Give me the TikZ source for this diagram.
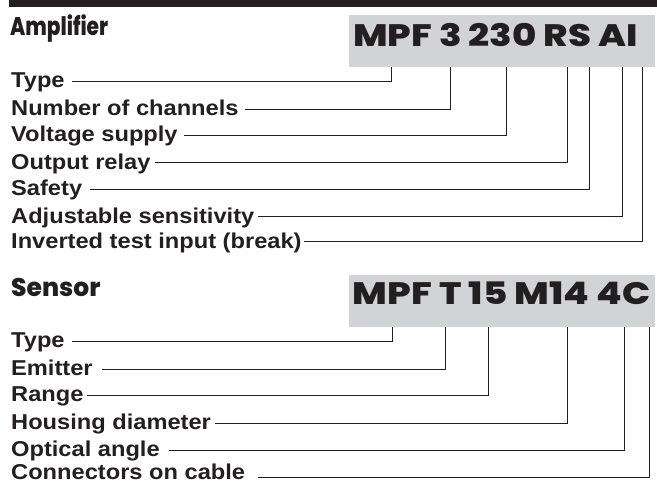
\documentclass[tikz,border=0pt]{standalone}
\usepackage{fontspec}
\usetikzlibrary{calc}
\newfontfamily\labfont{Liberation Sans}[FakeStretch=1.1]
\newfontfamily\ttlfont{Poppins}[BoldFont={Poppins ExtraBold}]
\newfontfamily\codefont{Poppins}[BoldFont={Poppins ExtraBold}]
\definecolor{ink}{HTML}{231F20}
\definecolor{boxgray}{HTML}{D1D3D4}
\begin{document}
\begin{tikzpicture}[x=1pt,y=-1pt,
  lab/.style={anchor=base west, inner sep=0pt, font=\labfont\bfseries\fontsize{21.5}{24}\selectfont, text=ink},
  ttl/.style={anchor=base west, inner sep=0pt, font=\ttlfont\bfseries\fontsize{25.5}{28}\selectfont, text=ink},
  code/.style={anchor=base west, inner sep=0pt, font=\codefont\bfseries\fontsize{31}{34}\selectfont, text=ink},
  codebox/.style={fill=boxgray, draw=none, inner sep=0pt, minimum width=306pt},
  conn/.style={draw=ink, line width=1pt},
]
\useasboundingbox (0,0) rectangle (657,483);
\fill[ink] (9,0) rectangle (657,6.7);

% Amplifier
\node[ttl] (amptitle) at (10,35) {\addfontfeature{FakeStretch=0.79}Amplifier};
\node[codebox, minimum height=52pt] (ampbox) at (502,41) {};
\node[code] (ampcode) at (353,46.5) {\addfontfeature{FakeStretch=1.195}MPF 3 230 RS AI};

\node[lab] (a1) at (11,87.5) {Type};
\node[lab] (a2) at (11,115.8) {Number of channels};
\node[lab] (a3) at (11,141.5) {Voltage supply};
\node[lab] (a4) at (11,169.2) {Output relay};
\node[lab] (a5) at (11,195.8) {Safety};
\node[lab] (a6) at (11,223.2) {Adjustable sensitivity};
\node[lab] (a7) at (11,248.2) {Inverted test input (break)};

\foreach \i/\sx/\vx/\ly in {1/71.7/391.7/81, 2/245/450/109.3, 3/184/506.7/135,
    4/155/567.3/162.7, 5/90/589.3/189.3, 6/258/622.7/216.7}{
  \coordinate (as\i) at (\sx,\ly);
  \coordinate (at\i) at (\vx,67);
  \draw[conn] (as\i) -| (at\i);
}
\coordinate (as7) at ($(a7.base east)+(2,-6.5)$);
\coordinate (at7) at (642.7,67);
\draw[conn] (as7) -| (at7);

% Sensor
\node[ttl] (sentitle) at (11,296.5) {\addfontfeature{FakeStretch=0.98}Sensor};
\node[codebox, minimum height=51.7pt] (senbox) at (502,300.85) {};
\node[code] (sencode) at (352.7,304.8) {\addfontfeature{FakeStretch=1.2}MPF T 15 M14 4C};

\node[lab] (s1) at (11,347.3) {Type};
\node[lab] (s2) at (11,375.6) {Emitter};
\node[lab] (s3) at (11,401.3) {Range};
\node[lab] (s4) at (11,429.6) {Housing diameter};
\node[lab] (s5) at (11,456.3) {Optical angle};
\node[lab] (s6) at (11,479.6) {Connectors on cable};

\foreach \i/\sx/\vx/\ly in {1/71.7/392.3/341, 2/101.7/445.7/369.3, 3/87.3/488.3/395,
    4/215/567.3/423.3, 5/169.3/624/450, 6/258.3/649.3/477.3}{
  \coordinate (ss\i) at (\sx,\ly);
  \coordinate (st\i) at (\vx,326.7);
  \draw[conn] (ss\i) -| (st\i);
}
\end{tikzpicture}
\end{document}
